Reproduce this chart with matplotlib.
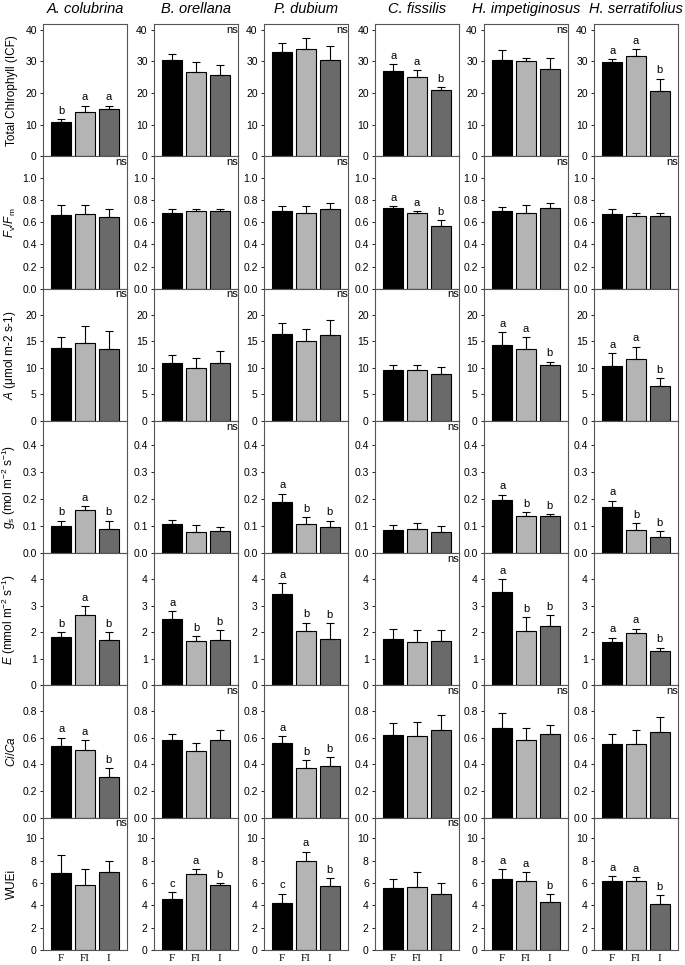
import numpy as np
import matplotlib
matplotlib.use("Agg")
from matplotlib import pyplot as plt

plt.rcParams['font.family'] = ['Liberation Sans', 'DejaVu Sans']
plt.rcParams['mathtext.fontset'] = 'custom'
plt.rcParams['mathtext.rm'] = 'Liberation Sans'
plt.rcParams['mathtext.it'] = 'Liberation Sans:italic'

species = ['A. colubrina', 'B. orellana', 'P. dubium', 'C. fissilis',
           'H. impetiginosus', 'H. serratifolius']
treatments = ['F', 'FI', 'I']

# one list per variable: [species][treatment]
chl = [[10.8, 14.0, 14.8], [30.3, 26.5, 25.7], [32.8, 33.8, 30.4],
       [27.1, 25.2, 21.0], [30.4, 30.1, 27.7], [29.8, 31.6, 20.7]]
chl_err = [[1.0, 2.0, 1.2], [2.0, 3.3, 3.3], [3.0, 3.5, 4.3],
           [2.0, 2.0, 0.8], [3.3, 1.0, 3.5], [0.8, 2.2, 3.8]]
chl_sig = [['b', 'a', 'a'], 'ns', 'ns', ['a', 'a', 'b'], 'ns', ['a', 'a', 'b']]

fvfm = [[0.67, 0.68, 0.65], [0.69, 0.70, 0.70], [0.70, 0.69, 0.72],
        [0.73, 0.69, 0.57], [0.70, 0.69, 0.73], [0.68, 0.66, 0.655]]
fvfm_err = [[0.09, 0.08, 0.07], [0.03, 0.02, 0.02], [0.05, 0.06, 0.06],
            [0.02, 0.01, 0.05], [0.04, 0.07, 0.05], [0.04, 0.03, 0.035]]
fvfm_sig = ['ns', 'ns', 'ns', ['a', 'a', 'b'], 'ns', 'ns']

assim = [[13.8, 14.7, 13.6], [10.9, 10.0, 10.9], [16.5, 15.1, 16.2],
         [9.6, 9.6, 8.8], [14.3, 13.6, 10.5], [10.4, 11.6, 6.6]]
assim_err = [[2.0, 3.3, 3.4], [1.6, 1.9, 2.3], [2.0, 2.2, 2.9],
             [1.0, 1.0, 1.3], [2.5, 2.2, 0.7], [2.4, 2.4, 1.5]]
assim_sig = ['ns', 'ns', 'ns', 'ns', ['a', 'a', 'b'], ['a', 'a', 'b']]

gs = [[0.10, 0.16, 0.09], [0.108, 0.08, 0.083], [0.19, 0.108, 0.095],
      [0.085, 0.09, 0.078], [0.197, 0.138, 0.137], [0.172, 0.087, 0.06]]
gs_err = [[0.02, 0.015, 0.03], [0.015, 0.025, 0.013], [0.03, 0.025, 0.025],
          [0.02, 0.022, 0.024], [0.02, 0.015, 0.008], [0.022, 0.025, 0.022]]
gs_sig = [['b', 'a', 'b'], 'ns', ['a', 'b', 'b'], 'ns', ['a', 'b', 'b'], ['a', 'b', 'b']]

transp = [[1.82, 2.65, 1.70], [2.50, 1.67, 1.72], [3.45, 2.03, 1.75],
          [1.73, 1.62, 1.68], [3.50, 2.03, 2.25], [1.65, 1.96, 1.30]]
transp_err = [[0.17, 0.32, 0.30], [0.28, 0.18, 0.35], [0.40, 0.33, 0.60],
              [0.38, 0.45, 0.42], [0.48, 0.53, 0.38], [0.15, 0.17, 0.12]]
transp_sig = [['b', 'a', 'b'], ['a', 'b', 'b'], ['a', 'b', 'b'], 'ns',
              ['a', 'b', 'b'], ['a', 'a', 'b']]

cica = [[0.54, 0.51, 0.305], [0.585, 0.50, 0.58], [0.56, 0.37, 0.385],
        [0.62, 0.615, 0.655], [0.67, 0.585, 0.625], [0.555, 0.55, 0.64]]
cica_err = [[0.06, 0.07, 0.065], [0.04, 0.06, 0.075], [0.05, 0.06, 0.07],
            [0.09, 0.10, 0.115], [0.11, 0.09, 0.07], [0.07, 0.11, 0.11]]
cica_sig = [['a', 'a', 'b'], 'ns', ['a', 'b', 'b'], 'ns', 'ns', 'ns']

wue = [[6.9, 5.8, 7.0], [4.6, 6.8, 5.8], [4.2, 7.95, 5.75],
       [5.55, 5.6, 5.0], [6.35, 6.2, 4.3], [6.15, 6.2, 4.1]]
wue_err = [[1.65, 1.5, 1.0], [0.6, 0.45, 0.2], [0.85, 0.85, 0.7],
           [0.85, 1.4, 1.0], [0.9, 0.8, 0.7], [0.45, 0.3, 0.8]]
wue_sig = ['ns', ['c', 'a', 'b'], ['c', 'a', 'b'], 'ns', ['a', 'a', 'b'], ['a', 'a', 'b']]

rows = [
    (chl, chl_err, chl_sig, 'Total Chlrophyll (ICF)', 41.8, np.arange(0, 41, 10), '%d'),
    (fvfm, fvfm_err, fvfm_sig, r'$F_\mathrm{v}/F_\mathrm{m}$', 1.2, np.arange(0, 1.01, 0.2), '%.1f'),
    (assim, assim_err, assim_sig, r'$A$ ($\mathrm{\mu}$mol m-2 s-1)', 25, np.arange(0, 21, 5), '%d'),
    (gs, gs_err, gs_sig, r'$g_\mathrm{s}$ (mol m$^{-2}$ s$^{-1}$)', 0.49, np.arange(0, 0.41, 0.1), '%.1f'),
    (transp, transp_err, transp_sig, r'$E$ (mmol m$^{-2}$ s$^{-1}$)', 4.97, np.arange(0, 5, 1), '%d'),
    (cica, cica_err, cica_sig, r'$Ci/Ca$', 0.99, np.arange(0, 0.81, 0.2), '%.1f'),
    (wue, wue_err, wue_sig, 'WUEi', 11.85, np.arange(0, 11, 2), '%d'),
]

colors = ['#000000', '#b4b4b4', '#6a6a6a']
W, H = 685, 965
fig = plt.figure(figsize=(W / 100, H / 100), dpi=100)

# panel geometry in pixels from the top-left corner
col_left = [43, 154, 264, 375, 484, 594]
ax_w = 84
top, bottom = 24, 950
row_h = (bottom - top) / len(rows)
x = np.arange(3)

for r, (vals, errs, sigs, ylab, ymax, yt, fmt) in enumerate(rows):
    for c in range(6):
        y_low = top + (r + 1) * row_h
        ax = fig.add_axes([col_left[c] / W, (H - y_low) / H, ax_w / W, row_h / H])
        v = np.array(vals[c])
        e = np.array(errs[c])
        ax.bar(x, v, width=0.85, color=colors, edgecolor='black', linewidth=0.8, zorder=2)
        ax.errorbar(x, v, yerr=[np.zeros(3), e], fmt='none', ecolor='black',
                    elinewidth=0.8, capsize=3, capthick=0.8, zorder=3)
        ax.set_xlim(-0.77, 2.77)
        ax.set_ylim(0, ymax)
        ax.set_yticks(yt)
        ax.set_yticklabels([fmt % t for t in yt], fontsize=7.5)
        ax.tick_params(axis='y', direction='out', length=2.5, width=0.6, pad=2)
        for sp in ax.spines.values():
            sp.set_color('#555555')
            sp.set_linewidth(0.8)
        sig = sigs[c]
        if sig == 'ns':
            ax.text(0.995, 0.995, 'ns', transform=ax.transAxes, ha='right', va='top',
                    fontsize=8)
        else:
            for i in range(3):
                ax.text(x[i], v[i] + e[i] + ymax * 0.025, sig[i], ha='center',
                        va='bottom', fontsize=8)
        if r == len(rows) - 1:
            ax.set_xticks(x)
            ax.set_xticklabels(treatments, family=['Liberation Serif'], fontsize=8)
            ax.tick_params(axis='x', length=0, pad=3)
        else:
            ax.set_xticks([])
        if r == 0:
            fig.text((col_left[c] + ax_w / 2) / W, 1 - 2 / H, species[c],
                     style='italic', fontsize=10.5, ha='center', va='top')
        if c == 0:
            ax.set_ylabel(ylab, fontsize=8.5)
            ax.yaxis.set_label_coords(-(43 - 18) / ax_w, 0.5)

fig.savefig('out.png', dpi=100)
